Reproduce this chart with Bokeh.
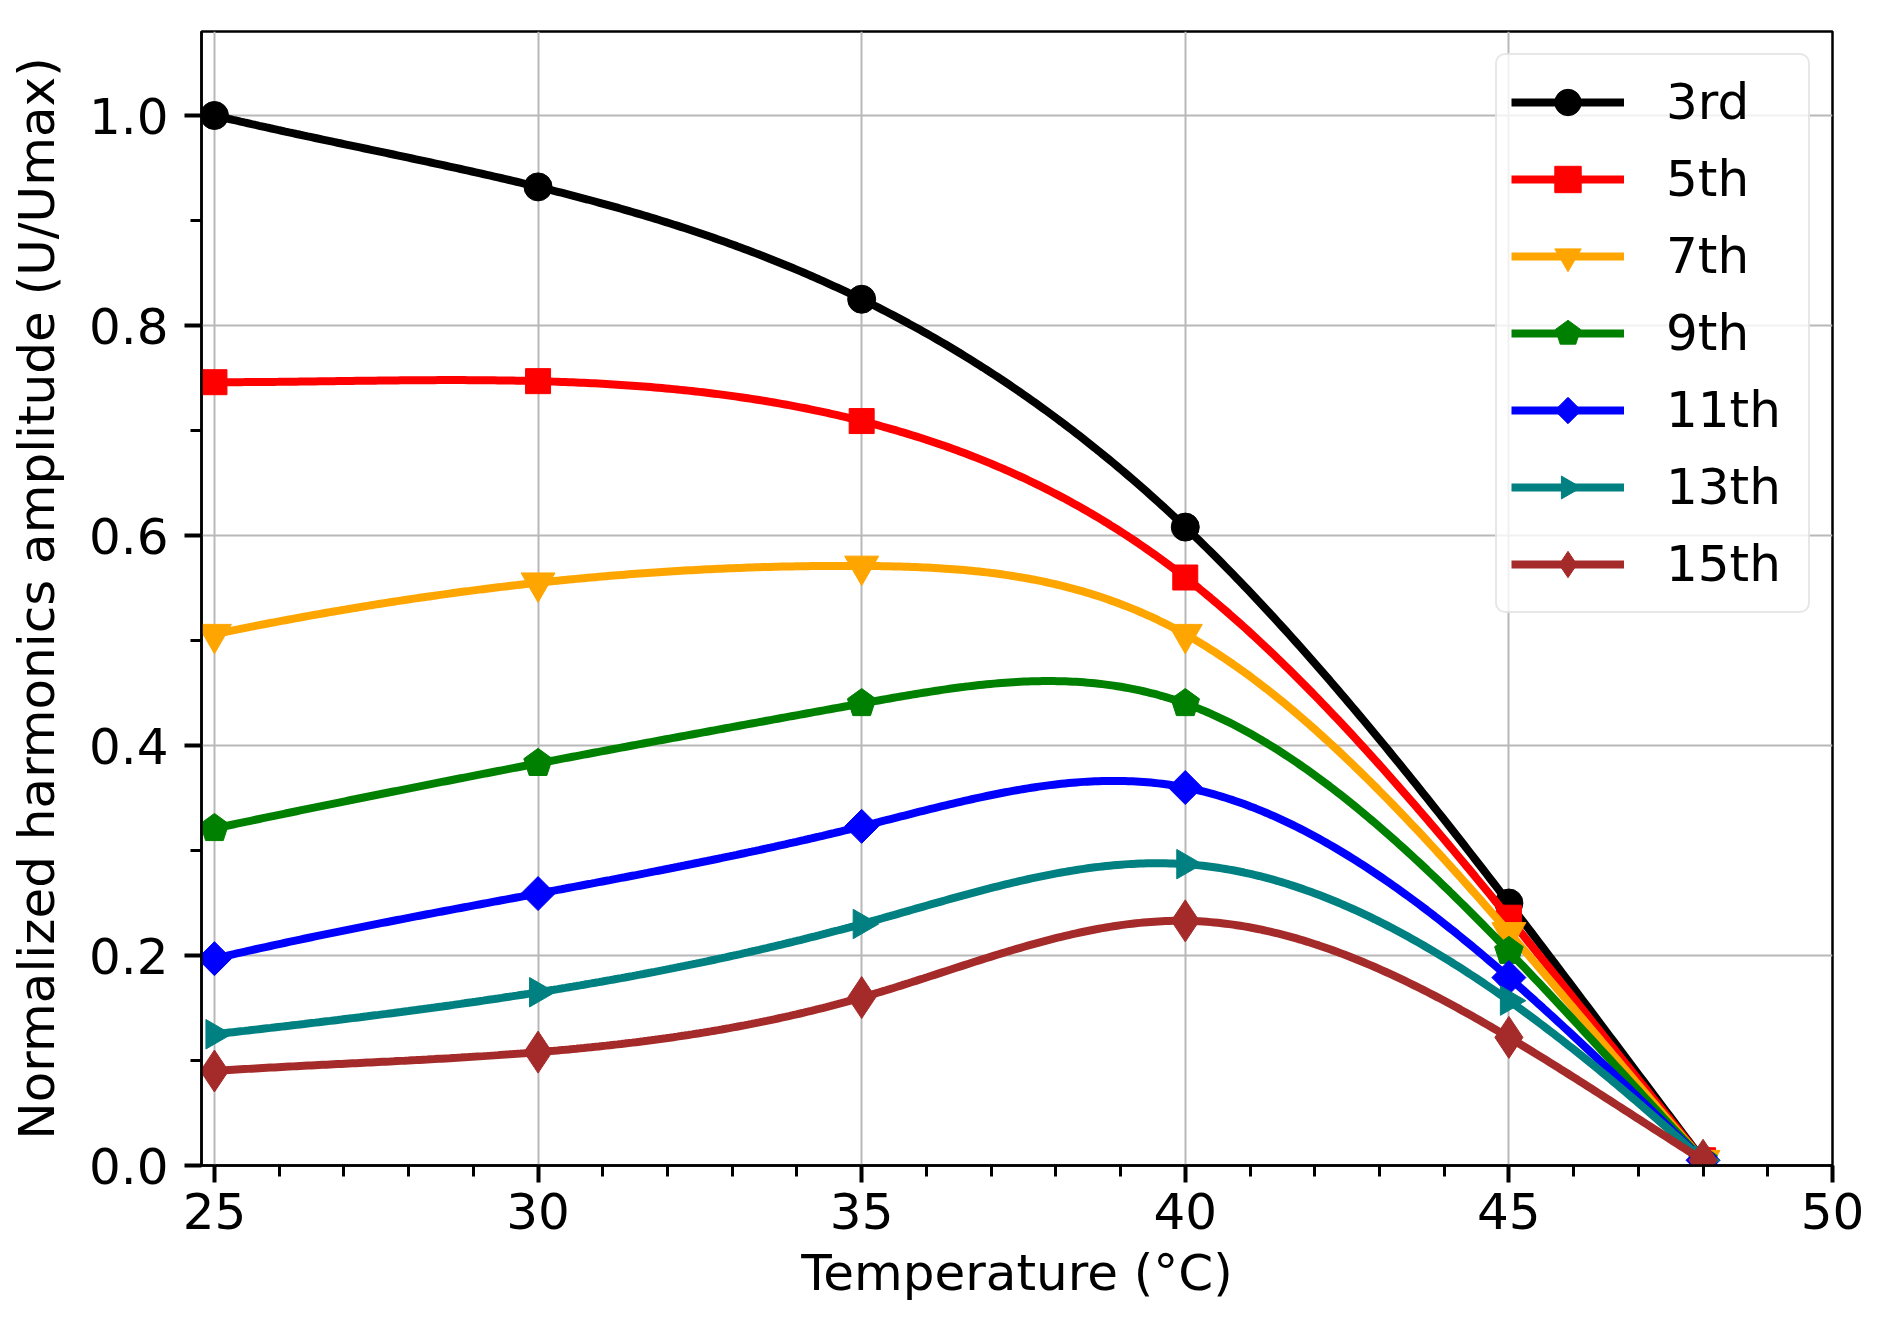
import numpy as np
from bokeh.plotting import figure
from bokeh.models import Range1d, FixedTicker, Legend, LegendItem, ColumnDataSource, PrintfTickFormatter
from bokeh.models import glyphs as bk_glyphs
from bokeh.embed import file_html
from bokeh.resources import INLINE

# ---------------- data ----------------
temps = [25, 30, 35, 40, 45, 48]
h3 = [1.000, 0.932, 0.825, 0.608, 0.250, 0.005]
h5 = [0.746, 0.747, 0.709, 0.560, 0.236, 0.005]
h7 = [0.506, 0.555, 0.571, 0.506, 0.222, 0.005]
h9 = [0.321, 0.383, 0.440, 0.440, 0.204, 0.005]
h11 = [0.197, 0.259, 0.323, 0.360, 0.179, 0.005]
h13 = [0.125, 0.165, 0.230, 0.287, 0.157, 0.005]
h15 = [0.090, 0.108, 0.160, 0.233, 0.122, 0.005]

labels = ["3rd", "5th", "7th", "9th", "11th", "13th", "15th"]
series = [h3, h5, h7, h9, h11, h13, h15]
colors = ["black", "red", "orange", "green", "blue", "teal", "brown"]

x_ticks = [25, 30, 35, 40, 45, 50]
y_ticks = [0.0, 0.2, 0.4, 0.6, 0.8, 1.0]

FONT = "DejaVu Sans"


def smooth(xs, ys, num=400):
    """Not-a-knot cubic spline through the data points (how the source drew its curves)."""
    x = np.asarray(xs, float)
    y = np.asarray(ys, float)
    n = len(x)
    h = np.diff(x)
    A = np.zeros((n, n))
    b = np.zeros(n)
    A[0, 0], A[0, 1], A[0, 2] = h[1], -(h[0] + h[1]), h[0]
    for i in range(1, n - 1):
        A[i, i - 1] = h[i - 1]
        A[i, i] = 2 * (h[i - 1] + h[i])
        A[i, i + 1] = h[i]
        b[i] = 6 * ((y[i + 1] - y[i]) / h[i] - (y[i] - y[i - 1]) / h[i - 1])
    A[n - 1, n - 3], A[n - 1, n - 2], A[n - 1, n - 1] = h[n - 2], -(h[n - 3] + h[n - 2]), h[n - 3]
    M = np.linalg.solve(A, b)
    xx = np.linspace(x[0], x[-1], num)
    k = np.clip(np.searchsorted(x, xx, side="right") - 1, 0, n - 2)
    hk = h[k]
    a = x[k + 1] - xx
    c = xx - x[k]
    yy = (M[k] * a ** 3 + M[k + 1] * c ** 3) / (6 * hk) \
        + (y[k] / hk - M[k] * hk / 6) * a + (y[k + 1] / hk - M[k + 1] * hk / 6) * c
    return xx, yy


p = figure(width=1874, height=1314, output_backend="svg", toolbar_location=None,
           x_range=Range1d(24.8, 50), y_range=Range1d(0, 1.08),
           min_border_left=201, min_border_right=42, min_border_top=31, min_border_bottom=149)

p.background_fill_color = "white"
p.border_fill_color = "white"
p.outline_line_color = "black"
p.outline_line_width = 2.5

p.xaxis.ticker = FixedTicker(ticks=x_ticks, minor_ticks=list(range(25, 51)))
p.yaxis.ticker = FixedTicker(ticks=y_ticks, minor_ticks=[round(0.1 * i, 1) for i in range(0, 11)])
p.yaxis.formatter = PrintfTickFormatter(format="%.1f")
p.xaxis.axis_label = "Temperature (°C)"
p.yaxis.axis_label = "Normalized harmonics amplitude (U/Umax)"

for ax in (p.xaxis, p.yaxis):
    ax.axis_line_color = "black"
    ax.axis_line_width = 2.5
    ax.major_tick_in = 0
    ax.major_tick_out = 17
    ax.minor_tick_in = 0
    ax.minor_tick_out = 11
    ax.major_tick_line_width = 4
    ax.minor_tick_line_width = 3
    ax.major_tick_line_color = "black"
    ax.minor_tick_line_color = "black"
    ax.major_label_text_font = FONT
    ax.major_label_text_font_size = "50px"
    ax.major_label_text_color = "black"
    ax.axis_label_text_font = FONT
    ax.axis_label_text_font_size = "50px"
    ax.axis_label_text_font_style = "normal"
    ax.axis_label_text_color = "black"

p.xaxis.major_label_standoff = 10
p.xaxis.axis_label_standoff = 12
p.yaxis.major_label_standoff = 16
p.yaxis.axis_label_standoff = 20

p.grid.grid_line_color = "#b8b8b8"
p.grid.grid_line_width = 2

has_ngon = hasattr(bk_glyphs, "Ngon")

items = []
for lab, ys, col in zip(labels, series, colors):
    sx, sy = smooth(temps, ys)
    lr = p.line(sx, sy, line_color=col, line_width=8)
    src = ColumnDataSource(dict(x=temps, y=ys))
    kw = dict(source=src, fill_color=col, line_color=col)
    if lab == "3rd":
        mr = p.scatter("x", "y", marker="circle", size=28, **kw)
    elif lab == "5th":
        mr = p.scatter("x", "y", marker="square", size=25, **kw)
    elif lab == "7th":
        mr = p.scatter("x", "y", marker="inverted_triangle", size=34, **kw)
    elif lab == "9th":
        if has_ngon:
            mr = p.ngon("x", "y", radius=15, radius_units="screen", n=5, angle=0, **kw)
        else:
            mr = p.scatter("x", "y", marker="hex", size=28, **kw)
    elif lab == "11th":
        if has_ngon:
            mr = p.ngon("x", "y", radius=17, radius_units="screen", n=4, angle=0, **kw)
        else:
            mr = p.scatter("x", "y", marker="square", size=24, angle=np.pi / 4, **kw)
    elif lab == "13th":
        if has_ngon:
            mr = p.ngon("x", "y", radius=17, radius_units="screen", n=3, angle=-np.pi / 2, **kw)
        else:
            mr = p.scatter("x", "y", marker="triangle", size=33, angle=-np.pi / 2, **kw)
    else:
        mr = p.scatter("x", "y", marker="diamond", size=42, **kw)
    items.append(LegendItem(label=lab, renderers=[lr, mr]))

legend = Legend(items=items, location="top_right", margin=22,
                label_text_font=FONT, label_text_font_size="50px", label_text_color="black",
                glyph_width=113, glyph_height=66, label_height=66, label_width=128,
                label_standoff=42, spacing=11, padding=14,
                border_line_color="#d0d0d0", border_line_width=2,
                background_fill_color="white", background_fill_alpha=0.8)
if "border_radius" in Legend.properties():
    legend.border_radius = 10
p.add_layout(legend)

open("out.html", "w").write(file_html(p, INLINE))
